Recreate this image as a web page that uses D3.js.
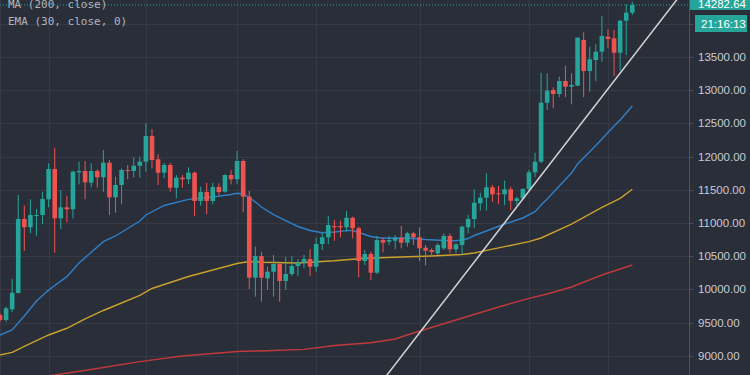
<!DOCTYPE html>
<html>
<head>
<meta charset="utf-8">
<script src="https://cdn.jsdelivr.net/npm/d3@7"></script>
<style>
  body { margin: 0; background: #2a2e39; }
  svg { display: block; }
</style>
</head>
<body>
<div class="div_chart"></div>
<script>
// daily candles, oldest first
const open = [9613, 9538, 9699, 9945, 11059, 10934, 11104, 11119, 11355, 11812,
  11069, 11235, 11205, 11762, 11782, 11605, 11782, 11687, 11907, 11386,
  11571, 11797, 11782, 11861, 11922, 12309, 11958, 11756, 11872, 11530,
  11681, 11657, 11756, 11330, 11465, 11330, 11541, 11470, 11721, 11657,
  11932, 11395, 10175, 10501, 10166, 10265, 10381, 10125, 10230, 10351,
  10401, 10456, 10340, 10682, 10783, 10953, 10953, 10934, 11078, 10919,
  10426, 10532, 10250, 10742, 10717, 10732, 10777, 10702, 10843, 10783,
  10627, 10592, 10542, 10617, 10803, 10602, 10667, 10934, 11059, 11295,
  11380, 11536, 11446, 11431, 11506, 11330, 11370, 11511, 11762, 11922,
  12810, 13001, 12941, 13137, 13051, 13066, 13754, 13287, 13453, 13578,
  13804, 13780, 13563, 14045, 14166];
const high = [9643, 9738, 10155, 11420, 11259, 11355, 11209, 11470, 11898, 12132,
  11495, 11410, 11786, 11922, 11932, 11898, 11807, 12098, 11947, 11696,
  11822, 11872, 11988, 11997, 12500, 12414, 12033, 11907, 11907, 11721,
  11721, 11837, 11771, 11545, 11605, 11605, 11596, 11732, 11797, 12087,
  11958, 11480, 10642, 10566, 10340, 10517, 10416, 10491, 10501, 10452,
  10517, 10602, 10777, 10852, 11104, 11044, 11033, 11179, 11093, 10943,
  10592, 10566, 10803, 10783, 10803, 10818, 10953, 10867, 10867, 10934,
  10667, 10617, 10693, 10843, 10843, 10693, 10958, 11119, 11506, 11455,
  11747, 11571, 11556, 11636, 11545, 11395, 11521, 11797, 12057, 13262,
  13253, 13042, 13202, 13367, 13253, 13795, 13870, 13654, 13690, 14116,
  13916, 13905, 14056, 14292, 14331];
const low = [9508, 9512, 9654, 9935, 10577, 10843, 10807, 10979, 11235, 10551,
  10908, 11009, 11069, 11581, 11355, 11536, 11530, 11470, 11119, 11154,
  11280, 11657, 11687, 11681, 11771, 11822, 11571, 11672, 11470, 11370,
  11530, 11586, 11104, 11259, 11130, 11280, 11420, 11455, 11581, 11581,
  11160, 10005, 9889, 9813, 9989, 9889, 9813, 9989, 10200, 10200,
  10316, 10205, 10265, 10592, 10678, 10732, 10783, 10867, 10768, 10181,
  10366, 10140, 10230, 10557, 10667, 10602, 10617, 10642, 10667, 10426,
  10361, 10501, 10517, 10592, 10542, 10542, 10532, 10843, 10919, 11184,
  11184, 11319, 11285, 11270, 11194, 11270, 11345, 11485, 11687, 11898,
  12700, 12726, 12892, 12892, 12786, 13062, 12892, 12976, 13137, 13428,
  13629, 13212, 13292, 13528, 14131];
const close = [9538, 9714, 9949, 11059, 10934, 11119, 11119, 11360, 11812, 11069,
  11235, 11205, 11771, 11782, 11611, 11782, 11687, 11907, 11386, 11571,
  11797, 11782, 11861, 11922, 12309, 11947, 11756, 11872, 11530, 11681,
  11657, 11756, 11330, 11465, 11330, 11541, 11465, 11721, 11657, 11932,
  11395, 10175, 10501, 10175, 10265, 10381, 10125, 10230, 10351, 10401,
  10456, 10340, 10682, 10783, 10968, 10934, 10934, 11078, 10919, 10426,
  10532, 10250, 10742, 10702, 10742, 10777, 10702, 10843, 10783, 10617,
  10581, 10562, 10667, 10803, 10602, 10678, 10943, 11059, 11304, 11380,
  11536, 11431, 11431, 11506, 11334, 11370, 11511, 11762, 11922, 12810,
  12991, 12941, 13137, 13051, 13077, 13789, 13287, 13464, 13578, 13815,
  13770, 13563, 14045, 14166, 14282.64];

// EMA (30) at some candles
const emaIdx = [0, 2, 4, 6, 8, 11, 13, 17, 19, 23, 24, 27, 31, 35, 38, 39, 40, 41, 42, 43,
  45, 47, 49, 51, 53, 55, 57, 58, 59, 61, 63, 67, 70, 73, 75, 76, 77, 78, 80, 83,
  86, 88, 89, 90, 94, 95, 98, 101, 102, 104];
const emaVal = [9312, 9388, 9598, 9824, 9989, 10190, 10396, 10717, 10803, 11029,
  11119, 11262, 11355, 11390, 11428, 11446, 11435, 11382, 11315, 11239,
  11126, 11036, 10946, 10886, 10852, 10863, 10883, 10886, 10855, 10795,
  10768, 10773, 10750, 10735, 10732, 10742, 10765, 10810, 10878, 10983,
  11074, 11169, 11270, 11360, 11751, 11887, 12166, 12459, 12550, 12761];

// middle MA (yellow)
const maMidIdx = [0, 2, 4, 8, 11, 14, 17, 19, 23, 25, 31, 35, 39, 41, 43, 49, 55, 60, 66, 71,
  76, 78, 80, 83, 87, 89, 94, 99, 102, 104];
const maMidVal = [9011, 9051, 9139, 9312, 9413, 9553, 9681, 9756, 9907, 10012,
  10193, 10291, 10389, 10419, 10407, 10396, 10429, 10467, 10486, 10501,
  10524, 10547, 10587, 10642, 10717, 10773, 10983, 11232, 11370, 11506];

// MA (200) red
const maLongIdx = [0, 9, 16, 23, 30, 39, 44, 50, 55, 61, 65, 68, 75, 82, 87, 90, 94, 99, 104];
const maLongVal = [8604, 8709, 8807, 8910, 8995, 9063, 9075, 9096, 9154, 9196,
  9252, 9342, 9538, 9733, 9864, 9929, 10035, 10215, 10366];

// hand drawn trend line, two anchors
const trendIdx = [62, 112];
const trendVal = [8514, 14441];

const gridIdx = [0, 8, 24, 39, 52, 69, 87, 100];
const priceTicks = [9000, 9500, 10000, 10500, 11000, 11500, 12000, 12500, 13000, 13500, 14000];
const legendLabels = ['MA (200, close)', 'EMA (30, close, 0)'];
const lastPrice = 14282.64;
const countdown = '21:16:13';

const width = 750;
const height = 375;
const plotRight = 689;

const svg = d3.select('.div_chart')
  .append('svg')
    .attr('width', width)
    .attr('height', height);

svg.append('rect')
  .attr('width', width)
  .attr('height', height)
  .attr('fill', '#2a2e39');

svg.append('clipPath')
  .attr('id', 'plot')
  .append('rect')
    .attr('width', plotRight)
    .attr('height', height);

const x = d3.scaleLinear()
  .domain([0, close.length - 1])
  .range([0, 632.3]);

const y = d3.scaleLinear()
  .domain([9000, 14000])
  .range([355.7, 23.7]);

const plot = svg.append('g').attr('clip-path', 'url(#plot)');

// grid
plot.append('g')
  .selectAll('line')
  .data(priceTicks)
  .enter()
  .append('line')
    .attr('x1', 0)
    .attr('x2', plotRight)
    .attr('y1', d => Math.round(y(d)) + 0.5)
    .attr('y2', d => Math.round(y(d)) + 0.5)
    .attr('stroke', '#363a46');

plot.append('g')
  .selectAll('line')
  .data(gridIdx)
  .enter()
  .append('line')
    .attr('x1', d => Math.round(x(d)) + 0.5)
    .attr('x2', d => Math.round(x(d)) + 0.5)
    .attr('y1', 0)
    .attr('y2', height)
    .attr('stroke', '#363a46');

// last price dotted line
plot.append('line')
  .attr('x1', 0)
  .attr('x2', plotRight)
  .attr('y1', y(lastPrice))
  .attr('y2', y(lastPrice))
  .attr('stroke', '#26a69a')
  .attr('stroke-width', 1)
  .attr('stroke-dasharray', '1,2');

// moving averages
const lineGen = d3.line().x(d => x(d[0])).y(d => y(d[1]));

const maLines = [
  {idx: maLongIdx, val: maLongVal, color: '#c0393b'},
  {idx: maMidIdx, val: maMidVal, color: '#c9a12c'},
  {idx: emaIdx, val: emaVal, color: '#2f7fc8'}
];

maLines.forEach(m => {
  plot.append('path')
    .datum(d3.zip(m.idx, m.val))
    .attr('d', lineGen)
    .attr('fill', 'none')
    .attr('stroke', m.color)
    .attr('stroke-width', 1.4);
});

// candles
const candles = d3.range(close.length).map(i => ({
  i, o: open[i], h: high[i], l: low[i], c: close[i]
}));
const up = '#26a69a';
const down = '#ef5350';
const bodyW = 4.6;

const cg = plot.append('g')
  .selectAll('g')
  .data(candles)
  .enter()
  .append('g');

cg.append('line')
  .attr('x1', d => x(d.i))
  .attr('x2', d => x(d.i))
  .attr('y1', d => y(d.h))
  .attr('y2', d => y(d.l))
  .attr('stroke', d => d.c >= d.o ? up : down)
  .attr('stroke-width', 1);

cg.append('rect')
  .attr('x', d => x(d.i) - bodyW / 2)
  .attr('width', bodyW)
  .attr('y', d => y(Math.max(d.o, d.c)))
  .attr('height', d => Math.max(1, Math.abs(y(d.o) - y(d.c))))
  .attr('fill', d => d.c >= d.o ? up : down);

// trend line
plot.append('path')
  .datum(d3.zip(trendIdx, trendVal))
  .attr('d', lineGen)
  .attr('fill', 'none')
  .attr('stroke', '#d4d4d4')
  .attr('stroke-width', 1.5);

// right price axis
svg.append('line')
  .attr('x1', plotRight + 0.5)
  .attr('x2', plotRight + 0.5)
  .attr('y1', 0)
  .attr('y2', height)
  .attr('stroke', '#50535e');

const axis = svg.append('g');
axis.selectAll('line')
  .data(priceTicks)
  .enter()
  .append('line')
    .attr('x1', plotRight)
    .attr('x2', plotRight + 4)
    .attr('y1', d => Math.round(y(d)) + 0.5)
    .attr('y2', d => Math.round(y(d)) + 0.5)
    .attr('stroke', '#50535e');

// the top tick label sits under the price / countdown labels, like on the original
axis.selectAll('text')
  .data(priceTicks.filter(d => y(d) > 36))
  .enter()
  .append('text')
    .attr('x', 698)
    .attr('y', d => y(d) + 4)
    .attr('font-family', '"Liberation Sans", Arial, sans-serif')
    .attr('font-size', '11.5px')
    .attr('fill', '#c8cbd3')
    .text(d => d3.format('.2f')(d));

// last price label + countdown
svg.append('rect')
  .attr('x', 690)
  .attr('y', y(lastPrice) - 14)
  .attr('width', 60)
  .attr('height', 19)
  .attr('fill', '#26a69a');

svg.append('text')
  .attr('x', 698)
  .attr('y', y(lastPrice) + 3.5)
  .attr('font-family', '"Liberation Sans", Arial, sans-serif')
  .attr('font-size', '11.5px')
  .attr('fill', '#ffffff')
  .text(d3.format('.2f')(lastPrice));

svg.append('rect')
  .attr('x', 695)
  .attr('y', 15)
  .attr('width', 52)
  .attr('height', 17)
  .attr('fill', '#26a69a');

svg.append('text')
  .attr('x', 701)
  .attr('y', 27.5)
  .attr('font-family', '"Liberation Sans", Arial, sans-serif')
  .attr('font-size', '11.5px')
  .attr('fill', '#ffffff')
  .text(countdown);

// legend
svg.append('g')
  .selectAll('text')
  .data(legendLabels)
  .enter()
  .append('text')
    .attr('x', 8)
    .attr('y', (d, i) => 8 + i * 16.5)
    .attr('font-family', '"DejaVu Sans Mono", monospace')
    .attr('font-size', '11px')
    .attr('fill', '#b2b5be')
    .text(d => d);
</script>
</body>
</html>
